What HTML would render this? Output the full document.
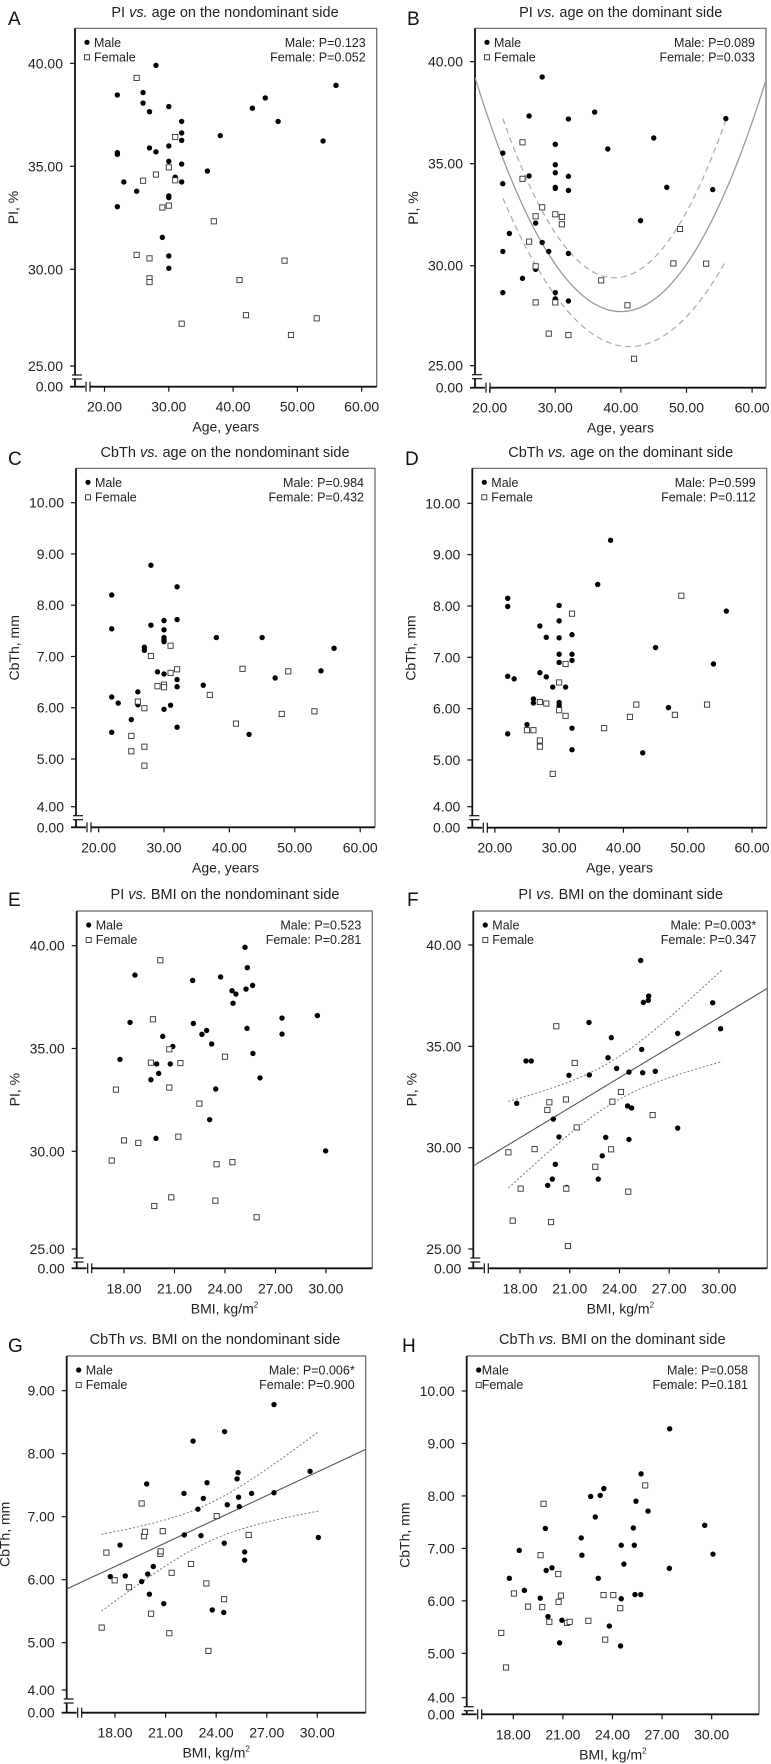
<!DOCTYPE html>
<html><head><meta charset="utf-8">
<style>
html,body{margin:0;padding:0;background:#fff;}
svg{display:block;font-family:"Liberation Sans",Arial,sans-serif;}
</style></head>
<body>
<svg id="fig" width="771" height="1764" viewBox="0 0 771 1764"></svg>
<script>
// ---------- DATA ----------
// Panel A: PI vs age, nondominant
const aMaleAge=[22,22,22,22,23,25,26,26,27,27,28,28,29,30,30,30,30,30,30,30,31,32,32,32,32,32,36,38,43,45,47,54,56];
const aMalePI=[38.46,35.66,35.58,33.04,34.24,33.79,38.58,38.07,37.65,35.89,39.9,35.7,31.55,37.9,35.99,35.24,33.56,33.48,30.65,30.05,34.47,37.18,36.62,36.26,35.11,34.24,34.77,36.49,37.82,38.32,37.18,36.23,38.93];
const aFemAge=[25,26,25,27,27,27,28,29,30,30,31,31,32,37,41,42,48,49,53];
const aFemPI=[39.29,34.3,30.7,30.53,29.56,29.38,34.6,33.0,34.95,33.09,36.42,34.32,27.36,32.33,29.48,27.77,30.42,26.81,27.62];
// Panel B: PI vs age, dominant
const bMaleAge=[28,22,22,23,22,22,25,26,26,27,27,28,29,30,30,30,30,30,30,30,32,32,32,32,32,36,38,43,45,47,54,56];
const bMalePI=[39.25,35.52,34.02,31.58,30.70,28.68,29.38,37.34,34.40,32.09,29.82,31.14,30.70,35.95,34.95,34.56,33.84,33.79,28.68,28.37,37.19,34.38,33.69,30.60,28.27,37.53,35.72,32.21,36.26,33.84,33.73,37.21];
const bFemAge=[25,25,26,27,27,27,28,29,30,30,31,31,32,37,41,42,48,49,53];
const bFemPI=[36.05,34.26,31.18,32.42,29.97,28.2,32.86,26.67,32.52,28.2,32.39,32.03,26.6,29.28,28.06,25.44,30.11,31.8,30.1];
const bFitQuad=[27.75,0.0232,40];      // vertex value, curvature, vertex age
const bBand=[1.5,0.0037,33];           // half-width base, growth, centre
const bBandRange=[22,56];
// Panel C: CbTh vs age, nondominant
const cMaleAge=[22,22,22,22,23,25,26,26,27,27,28,28,29,30,30,30,30,30,30,30,31,32,32,32,32,32,36,38,43,45,47,54,56];
const cMaleCb=[8.20,7.54,6.21,5.52,6.09,5.77,6.31,6.06,7.18,7.12,8.78,7.61,6.70,7.70,7.52,7.37,7.33,7.29,6.66,5.97,6.05,8.36,7.72,6.55,6.41,5.62,6.44,7.37,5.48,7.37,6.58,6.72,7.16];
const cFemAge=[25,25,26,27,27,27,28,29,30,30,31,31,32,37,41,42,48,49,53];
const cFemCb=[5.45,5.15,6.12,5.99,5.24,4.87,7.01,6.42,6.45,6.40,7.21,6.68,6.75,6.25,5.69,6.76,5.88,6.71,5.93];
// Panel D: CbTh vs age, dominant
const dMaleAge=[22,22,22,22,23,25,26,26,27,27,28,28,29,30,30,30,30,30,30,30,31,32,32,32,32,32,36,38,43,45,47,54,56];
const dMaleCb=[8.15,7.99,6.63,5.51,6.58,5.69,6.19,6.11,7.61,6.70,7.39,6.62,6.42,8.01,7.71,7.38,7.06,6.90,6.12,6.06,6.42,7.44,7.06,6.94,5.62,5.20,8.42,9.28,5.14,7.19,6.02,6.87,7.90];
const dFemAge=[25,26,27,27,27,28,29,30,30,31,31,32,37,41,42,48,49,53];
const dFemCb=[5.58,5.58,6.13,5.38,5.26,6.10,4.73,6.51,5.97,6.87,5.86,7.85,5.62,5.84,6.08,5.88,8.20,6.08];
// Panel E: PI vs BMI, nondominant
const eMaleBMI=[18.65,18.36,17.76,19.6,19.94,20.06,19.9,20.3,20.75,20.9,22.08,22.12,22.63,22.91,23.21,23.45,23.09,23.74,24.42,24.65,24.48,25.19,25.25,25.33,25.31,25.64,25.66,26.08,27.39,27.39,29.49,29.98];
const eMalePI=[38.57,36.27,34.47,33.48,34.25,33.79,30.63,35.59,34.25,35.1,38.31,36.22,35.69,35.88,35.22,33.03,31.54,38.48,37.81,37.65,37.2,39.92,37.89,38.93,35.98,38.07,34.76,33.57,36.48,35.7,36.6,30.02];
const eFemBMI=[17.27,17.52,18.0,18.85,19.6,19.72,19.8,20.16,20.69,20.69,20.81,21.23,21.35,22.48,23.43,23.5,24.0,24.44,25.88];
const eFemPI=[29.55,33.0,30.53,30.41,34.31,36.42,27.34,39.29,34.96,33.1,27.76,30.71,34.29,32.32,27.6,29.37,34.6,29.47,26.79];
// Panel F: PI vs BMI, dominant
const fMaleBMI=[17.8,18.36,18.68,19.67,19.95,20.01,20.13,20.35,20.81,20.95,22.16,22.18,22.72,22.96,23.17,23.31,23.51,23.83,24.49,24.57,24.57,24.73,25.28,25.34,25.4,25.44,25.74,25.76,26.16,27.51,27.51,29.62,30.1];
const fMalePI=[32.19,34.28,34.28,28.14,28.45,31.41,29.18,30.53,28.04,33.57,36.18,33.59,28.45,29.6,30.51,34.44,35.43,33.91,32.06,33.73,30.41,31.96,39.24,34.85,33.7,37.17,37.27,37.48,33.77,35.64,30.97,37.15,35.87];
const fFemBMI=[17.3,17.56,18.04,18.88,19.65,19.77,19.87,20.19,20.77,20.79,20.89,21.3,21.42,22.54,23.49,23.57,24.09,24.53,26.0];
const fFemPI=[29.77,26.4,27.98,29.93,31.86,32.24,26.33,35.99,32.38,27.98,25.15,34.18,31.0,29.06,29.92,32.27,32.75,27.83,31.61];
const fFitLine=[21.6,0.494];           // intercept, slope
const fBand=[1.1,0.09,23.5];           // hw^2 = a + b (x-c)^2
const fBandRange=[17.3,30.2];
// Panel G: CbTh vs BMI, nondominant
const gMaleBMI=[17.72,18.3,18.61,19.58,19.88,19.94,20.04,20.27,20.89,22.11,22.09,22.63,22.92,23.1,23.24,23.46,23.77,24.45,24.48,24.5,24.66,25.24,25.3,25.33,25.37,25.69,25.69,26.1,27.43,27.43,29.57,30.06];
const gMaleCb=[6.05,6.55,6.06,5.97,7.52,6.09,5.77,6.21,5.62,6.71,7.37,8.2,7.12,6.7,7.29,7.54,5.52,5.48,6.58,8.35,7.19,7.6,7.7,7.31,7.16,6.44,6.31,7.37,8.78,7.38,7.72,6.67];
const gFemBMI=[17.21,17.49,17.98,18.83,19.58,19.72,19.78,20.14,20.69,20.71,20.83,21.22,21.36,22.51,23.42,23.54,24.03,24.47,25.93];
const gFemCb=[5.24,6.43,5.99,5.88,7.21,6.69,6.76,5.46,6.41,6.45,6.77,5.15,6.11,6.25,5.94,4.87,7.01,5.69,6.71];
const gFitLine=[3.96,0.125];
const gBand=[0.09,0.0071,23.5];
const gBandRange=[17.2,30.1];
// Panel H: CbTh vs BMI, dominant
const hMaleBMI=[17.76,18.36,18.67,19.63,19.94,19.99,20.1,20.34,20.8,20.94,22.11,22.15,22.68,22.96,23.14,23.26,23.48,23.81,24.49,24.53,24.53,24.69,25.26,25.32,25.36,25.42,25.71,25.73,26.15,27.44,27.46,29.58,30.08];
const hMaleCb=[6.43,6.96,6.2,6.05,7.38,6.58,5.7,6.63,5.2,5.63,7.2,6.87,7.99,7.6,6.43,8.01,8.14,5.52,5.14,7.06,6.04,6.7,7.39,7.06,6.12,7.9,6.12,8.42,7.71,6.62,9.28,7.44,6.89];
const hFemBMI=[17.27,17.56,18.04,18.89,19.65,19.75,19.83,20.18,20.72,20.74,20.88,21.25,21.41,22.54,23.46,23.56,24.05,24.47,25.98];
const hFemCb=[5.39,4.73,6.14,5.89,6.87,5.88,7.85,5.6,6.51,5.98,6.1,5.58,5.6,5.62,6.11,5.26,6.11,5.86,8.2];
// tick label arrays
const ageTicks=[20,30,40,50,60];
const bmiTicks=[18,21,24,27,30];
const piTicks=[40,35,30];
const cbTicks10=[10,9,8,7,6,5];
const cbTicks9=[9,8,7,6,5];
const piLow=25, cbLow=4;

// ---------- LAYOUT ----------
const NS='http://www.w3.org/2000/svg';
const svg=document.getElementById('fig');
function mk(tag,attrs,parent){const e=document.createElementNS(NS,tag);for(const k in attrs)e.setAttribute(k,attrs[k]);(parent||svg).appendChild(e);return e;}

const panels=[
 {id:'a',letter:'A',lx:8,ly:25,title:['PI ','vs.',' age on the nondominant side'],tx:225,ty:17,box:[75,28.3,376.7,386.7],xv0:20,xp0:104.5,xs:6.43,yv0:40,yp0:63.3,ys:20.6,yt:piTicks,low:[piLow,366],xt:ageTicks,xtitle:'Age, years',ytitle:'PI, %',pm:'Male: P=0.123',pf:'Female: P=0.052',mx:aMaleAge,my:aMalePI,fx:aFemAge,fy:aFemPI},
 {id:'b',letter:'B',lx:407,ly:25,title:['PI ','vs.',' age on the dominant side'],tx:620.7,ty:17,box:[475,28.3,766,387.7],xv0:30,xp0:555.3,xs:6.56,yv0:40,yp0:61.7,ys:20.4,yt:piTicks,low:[piLow,365.7],xt:ageTicks,xtitle:'Age, years',ytitle:'PI, %',pm:'Male: P=0.089',pf:'Female: P=0.033',mx:bMaleAge,my:bMalePI,fx:bFemAge,fy:bFemPI,fit:'quad'},
 {id:'c',letter:'C',lx:8,ly:465,title:['CbTh ','vs.',' age on the nondominant side'],tx:225,ty:457,box:[76,468.3,375,827.3],xv0:22,xp0:111.7,xs:6.54,yv0:10,yp0:502.7,ys:51.26,yt:cbTicks10,low:[cbLow,806.7],xt:ageTicks,xtitle:'Age, years',ytitle:'CbTh, mm',pm:'Male: P=0.984',pf:'Female: P=0.432',mx:cMaleAge,my:cMaleCb,fx:cFemAge,fy:cFemCb},
 {id:'d',letter:'D',lx:405,ly:465,title:['CbTh ','vs.',' age on the dominant side'],tx:620.7,ty:457,box:[472.3,468.3,766.7,827.7],xv0:22,xp0:507.7,xs:6.43,yv0:10,yp0:503.3,ys:51.34,yt:cbTicks10,low:[cbLow,806.7],xt:ageTicks,xtitle:'Age, years',ytitle:'CbTh, mm',pm:'Male: P=0.599',pf:'Female: P=0.112',mx:dMaleAge,my:dMaleCb,fx:dFemAge,fy:dFemCb},
 {id:'e',letter:'E',lx:8,ly:906,title:['PI ','vs.',' BMI on the nondominant side'],tx:225,ty:899,box:[76.7,911,372.3,1268.3],xv0:18,xp0:124,xs:16.83,yv0:40,yp0:945.7,ys:20.56,yt:piTicks,low:[piLow,1249],xt:bmiTicks,xtitle:'BMI, kg/m',ytitle:'PI, %',pm:'Male: P=0.523',pf:'Female: P=0.281',mx:eMaleBMI,my:eMalePI,fx:eFemBMI,fy:eFemPI},
 {id:'f',letter:'F',lx:407,ly:906,title:['PI ','vs.',' BMI on the dominant side'],tx:620.7,ty:899,box:[473.3,911,767.3,1268.3],xv0:18,xp0:520,xs:16.58,yv0:40,yp0:945,ys:20.27,yt:piTicks,low:[piLow,1249],xt:bmiTicks,xtitle:'BMI, kg/m',ytitle:'PI, %',pm:'Male: P=0.003*',pf:'Female: P=0.347',mx:fMaleBMI,my:fMalePI,fx:fFemBMI,fy:fFemPI,fit:'lin',line:fFitLine,band:fBand,range:fBandRange},
 {id:'g',letter:'G',lx:8,ly:1352,title:['CbTh ','vs.',' BMI on the nondominant side'],tx:215,ty:1344,box:[66.7,1356,365.7,1712.7],xv0:18,xp0:115,xs:16.86,yv0:9,yp0:1390.7,ys:63,yt:cbTicks9,low:[cbLow,1690],xt:bmiTicks,xtitle:'BMI, kg/m',ytitle:'CbTh, mm',pm:'Male: P=0.006*',pf:'Female: P=0.900',mx:gMaleBMI,my:gMaleCb,fx:gFemBMI,fy:gFemCb,fit:'lin',line:gFitLine,band:gBand,range:gBandRange},
 {id:'h',letter:'H',lx:402,ly:1352,title:['CbTh ','vs.',' BMI on the dominant side'],tx:612.3,ty:1344,box:[466.7,1356,759,1714.3],xv0:18,xp0:513.3,xs:16.53,yv0:10,yp0:1391,ys:52.46,yt:cbTicks10,low:[cbLow,1697.7],xt:bmiTicks,xtitle:'BMI, kg/m',ytitle:'CbTh, mm',pm:'Male: P=0.058',pf:'Female: P=0.181',mx:hMaleBMI,my:hMaleCb,fx:hFemBMI,fy:hFemCb,tight:true}
];

panels.forEach(p=>{
  const g=mk('g',{});
  
  
  const [l,t,r,b]=p.box;
  const X=v=>p.xp0+(v-p.xv0)*p.xs;
  const Y=v=>p.yp0-(v-p.yv0)*p.ys;
  // letter
  const L=mk('text',{x:p.lx,y:p.ly,'font-size':19,fill:'#111'},g);L.textContent=p.letter;
  
  
  // title
  const T=mk('text',{x:p.tx,y:p.ty,'font-size':14.5,'text-anchor':'middle',fill:'#222'},g);
  
  
  p.title.forEach((s,i)=>{const sp=mk('tspan',{},T);if(i===1)sp.setAttribute('font-style','italic');sp.textContent=s;});
  // box (top/right thin)
  mk('polyline',{points:`${l},${t} ${r},${t} ${r},${b}`,fill:'none',stroke:'#666','stroke-width':1.2},g);
  const lowPx=p.low[1];
  // y axis
  const ya=mk('line',{x1:l,y1:t,x2:l,y2:lowPx+9,stroke:'#111','stroke-width':1.8},g);
  
  
  mk('line',{x1:l-3,y1:lowPx+9,x2:l+7,y2:lowPx+9,stroke:'#111','stroke-width':1.2},g);
  mk('line',{x1:l-3,y1:lowPx+13,x2:l+7,y2:lowPx+13,stroke:'#111','stroke-width':1.2},g);
  mk('line',{x1:l,y1:lowPx+13,x2:l,y2:b,stroke:'#111','stroke-width':1.8},g);
  mk('line',{x1:l-5,y1:b,x2:l+10,y2:b,stroke:'#111','stroke-width':1.8},g);
  mk('line',{x1:l+11,y1:b-5,x2:l+11,y2:b+5,stroke:'#111','stroke-width':1.2},g);
  mk('line',{x1:l+15,y1:b-5,x2:l+15,y2:b+5,stroke:'#111','stroke-width':1.2},g);
  const xa=mk('line',{x1:l+15,y1:b,x2:r,y2:b,stroke:'#111','stroke-width':1.8},g);
  
  
  // y ticks
  const yt=p.yt.map(v=>[v,Y(v)]).concat([[p.low[0],lowPx],[0,b]]);
  yt.forEach(([v,py])=>{
    mk('line',{x1:l-5,y1:py,x2:l,y2:py,stroke:'#111','stroke-width':1.2},g);
    const tx=mk('text',{x:l-12,y:py+5,'font-size':14,'text-anchor':'end',fill:'#222'},g);
    tx.textContent=v.toFixed(2);
    
    
  });
  // x ticks
  p.xt.forEach(v=>{
    const px=X(v);
    mk('line',{x1:px,y1:b,x2:px,y2:b+5,stroke:'#111','stroke-width':1.2},g);
    const tx=mk('text',{x:px,y:b+25,'font-size':14,'text-anchor':'middle',fill:'#222'},g);
    tx.textContent=v.toFixed(2);
    
    
  });
  // axis titles
  const xtt=mk('text',{x:(l+r)/2,y:b+45,'font-size':14,'text-anchor':'middle',fill:'#222'},g);
  xtt.textContent=p.xtitle;
  if(p.xtitle.startsWith('BMI')){const s=mk('tspan',{'font-size':8,dy:-6},xtt);s.textContent='2';}
  
  
  const yc=(t+b)/2, yx=l-57;
  const ytt=mk('text',{x:yx,y:yc,'font-size':14,'text-anchor':'middle',fill:'#222',transform:`rotate(-90 ${yx} ${yc})`},g);
  ytt.textContent=p.ytitle;
  
  
  // legend
  const lg=mk('g',{},g);
  
  
  const off=p.tight?0:4;
  mk('circle',{cx:l+12,cy:t+14,r:2.6,fill:'#000'},lg);
  const lm=mk('text',{x:l+15+off,y:t+18.5,'font-size':12.5,fill:'#222'},lg);lm.textContent='Male';
  mk('rect',{x:l+9.5,y:t+26.5,width:5,height:5,fill:'#fff',stroke:'#333','stroke-width':0.9},lg);
  const lf=mk('text',{x:l+15+off,y:t+33,'font-size':12.5,fill:'#222'},lg);lf.textContent='Female';
  const pm=mk('text',{x:r-11,y:t+18.5,'font-size':12.5,'text-anchor':'end',fill:'#222'},lg);pm.textContent=p.pm;
  
  
  const pf=mk('text',{x:r-11,y:t+33,'font-size':12.5,'text-anchor':'end',fill:'#222'},lg);pf.textContent=p.pf;
  
  
  // clip
  const cp=mk('clipPath',{id:'clip-'+p.id},g);
  mk('rect',{x:l,y:t,width:r-l,height:b-t},cp);
  const fg=mk('g',{'clip-path':`url(#clip-${p.id})`},g);
  // fits
  const xmin=p.xv0+(l-p.xp0)/p.xs, xmax=p.xv0+(r-p.xp0)/p.xs;
  function path(f,a,z){let d='';const n=80;for(let i=0;i<=n;i++){const v=a+(z-a)*i/n;d+=(i?'L':'M')+X(v).toFixed(2)+','+Y(f(v)).toFixed(2);}return d;}
  if(p.fit==='quad'){
    const fc=v=>bFitQuad[0]+bFitQuad[1]*(v-bFitQuad[2])**2;
    const hw=v=>bBand[0]+bBand[1]*(v-bBand[2])**2;
    const fl=mk('path',{d:path(fc,xmin,xmax),fill:'none',stroke:'#999','stroke-width':1.3},fg);
    
    
    [1,-1].forEach(s=>{const e=mk('path',{d:path(v=>fc(v)+s*hw(v),bBandRange[0],bBandRange[1]),fill:'none',stroke:'#aaa','stroke-width':1.2,'stroke-dasharray':'6,4'},fg);
      
      });
  }
  if(p.fit==='lin'){
    const fc=v=>p.line[0]+p.line[1]*v;
    const hw=v=>Math.sqrt(p.band[0]+p.band[1]*(v-p.band[2])**2);
    const fl=mk('path',{d:path(fc,xmin,xmax),fill:'none',stroke:'#555','stroke-width':1.1},fg);
    
    
    [1,-1].forEach(s=>{const e=mk('path',{d:path(v=>fc(v)+s*hw(v),p.range[0],p.range[1]),fill:'none',stroke:'#777','stroke-width':1,'stroke-dasharray':'2,2'},fg);
      
      });
  }
  // points
  p.mx.forEach((v,i)=>{
    const c=mk('circle',{cx:X(v),cy:Y(p.my[i]),r:2.7,fill:'#000'},fg);
    
    
  });
  p.fx.forEach((v,i)=>{
    const s=mk('rect',{x:X(v)-2.6,y:Y(p.fy[i])-2.6,width:5.2,height:5.2,fill:'#fff',stroke:'#333','stroke-width':0.9},fg);
    
    
  });
});
</script>
</body></html>
